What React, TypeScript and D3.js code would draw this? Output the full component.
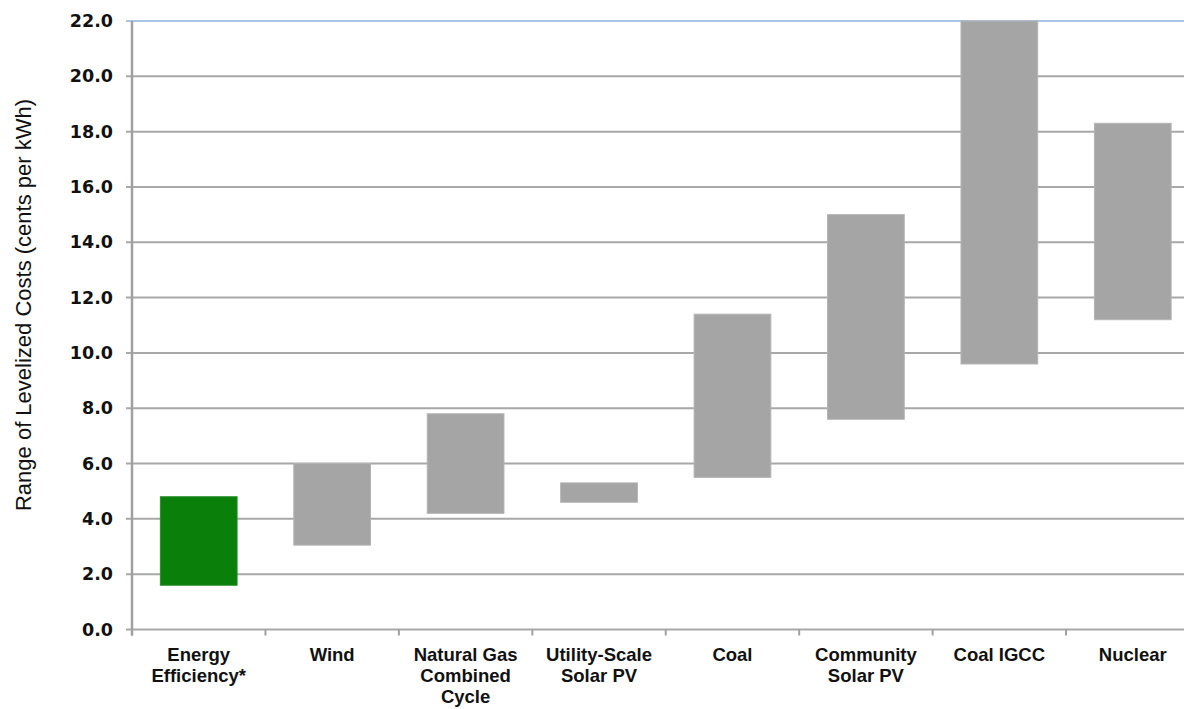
import React from "react";
import * as d3 from "d3";

const categories: string[][] = [
  ["Energy", "Efficiency*"],
  ["Wind"],
  ["Natural Gas", "Combined", "Cycle"],
  ["Utility-Scale", "Solar PV"],
  ["Coal"],
  ["Community", "Solar PV"],
  ["Coal IGCC"],
  ["Nuclear"],
];
const lowValues = [1.6, 3.05, 4.2, 4.6, 5.5, 7.6, 9.6, 11.2];
const highValues = [4.8, 6.0, 7.8, 5.3, 11.4, 15.0, 22.0, 18.3];
const highlighted = [true, false, false, false, false, false, false, false];
const yTicks = [0, 2, 4, 6, 8, 10, 12, 14, 16, 18, 20, 22];
const yTitle = "Range of Levelized Costs (cents per kWh)";

const W = 1184;
const H = 709;
const left = 132;
const right = 1199.5;
const top = 21;
const bottom = 629.5;

export default function App() {
  const keys = categories.map((c) => c.join(" "));
  const x = d3
    .scaleBand<string>()
    .domain(keys)
    .range([left, right])
    .paddingInner(0.425)
    .paddingOuter(0.2125);
  const y = d3.scaleLinear().domain([0, 22]).range([bottom, top]);
  const step = x.step();
  const boundaries = d3.range(keys.length + 1).map((i) => left + i * step);

  return (
    <svg
      width={W}
      height={H}
      style={{ position: "absolute", left: 0, top: 0, background: "#fff" }}
    >
      {/* gridlines */}
      {yTicks.map((t) => (
        <line
          key={"g" + t}
          x1={left - 6}
          x2={right + 10}
          y1={y(t)}
          y2={y(t)}
          stroke={t === 22 ? "#8db3e2" : "#a8a8a8"}
          strokeWidth={t === 22 ? 1.5 : 2}
        />
      ))}
      {/* bars */}
      {keys.map((k, i) => (
        <rect
          key={"b" + k}
          x={x(k)}
          width={x.bandwidth()}
          y={y(highValues[i])}
          height={y(lowValues[i]) - y(highValues[i])}
          fill={highlighted[i] ? "#0a7f0a" : "#a5a5a5"}
          stroke={highlighted[i] ? "#2a8f2a" : "#b4b4b4"}
          strokeWidth={1}
        />
      ))}
      {/* y axis line */}
      <line x1={left} x2={left} y1={top} y2={bottom + 6} stroke="#a0a0a0" strokeWidth={2.5} />
      {/* x tick marks */}
      {boundaries.map((b, i) => (
        <line key={"xt" + i} x1={b} x2={b} y1={bottom} y2={bottom + 6} stroke="#a0a0a0" strokeWidth={2} />
      ))}
      {/* y tick labels */}
      {yTicks.map((t) => (
        <text
          key={"yl" + t}
          x={113}
          y={y(t) + 1}
          textAnchor="end"
          dominantBaseline="middle"
          fontFamily="'DejaVu Sans', Verdana, sans-serif"
          fontWeight="bold"
          fontSize={17.5}
          fill="#111"
        >
          {d3.format(".1f")(t)}
        </text>
      ))}
      {/* category labels */}
      {categories.map((lines, i) => (
        <text
          key={"c" + i}
          x={(x(keys[i]) as number) + x.bandwidth() / 2}
          y={661}
          textAnchor="middle"
          fontFamily="'Liberation Sans', Arial, sans-serif"
          fontWeight="bold"
          fontSize={18.5}
          fill="#111"
        >
          {lines.map((l, j) => (
            <tspan key={j} x={(x(keys[i]) as number) + x.bandwidth() / 2} dy={j === 0 ? 0 : 21}>
              {l}
            </tspan>
          ))}
        </text>
      ))}
      {/* y title */}
      <text
        transform={`translate(31, 305) rotate(-90)`}
        textAnchor="middle"
        fontFamily="'Liberation Sans', Arial, sans-serif"
        fontSize={22}
        fill="#111"
      >
        {yTitle}
      </text>
    </svg>
  );
}
